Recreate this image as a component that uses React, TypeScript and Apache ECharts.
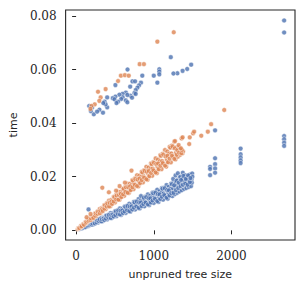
import React, { useEffect, useRef } from "react";
import * as echarts from "echarts";

const xTicks = [0, 1000, 2000];
const yTicks = [0, 0.02, 0.04, 0.06, 0.08];

// blue: main lower band
const blueBand: number[][] = [
  [40,0.00041],[47,0.00058],[54,0.00076],[70,0.00078],[77,0.00101],[84,0.00122],[100,0.00100],[107,0.00126],[114,0.00155],
  [130,0.00139],[137,0.00174],[144,0.00206],[160,0.00164],[167,0.00205],[174,0.00244],[190,0.00211],[197,0.00259],[204,0.00296],
  [220,0.00220],[227,0.00268],[234,0.00318],[250,0.00267],[257,0.00326],[264,0.00377],[280,0.00286],[287,0.00352],[294,0.00413],
  [310,0.00345],[317,0.00417],[324,0.00470],[340,0.00340],[347,0.00409],[354,0.00481],[370,0.00395],[377,0.00479],[384,0.00548],
  [400,0.00409],[407,0.00499],[414,0.00582],[430,0.00478],[437,0.00575],[444,0.00644],[460,0.00460],[467,0.00551],[474,0.00645],
  [490,0.00523],[497,0.00631],[504,0.00719],[520,0.00532],[527,0.00646],[534,0.00750],[550,0.00612],[557,0.00732],[564,0.00818],
  [580,0.00580],[587,0.00693],[594,0.00808],[610,0.00651],[617,0.00784],[624,0.00891],[640,0.00654],[647,0.00793],[654,0.00919],
  [670,0.00745],[677,0.00890],[684,0.00992],[700,0.00700],[707,0.00834],[714,0.00971],[730,0.00779],[737,0.00936],[744,0.01062],
  [760,0.00777],[767,0.00940],[774,0.01087],[790,0.00879],[797,0.01048],[804,0.01166],[820,0.00820],[827,0.00976],[834,0.01134],
  [850,0.00907],[857,0.01088],[864,0.01233],[880,0.00900],[887,0.01087],[894,0.01256],[910,0.01012],[917,0.01206],[924,0.01340],
  [940,0.00940],[947,0.01117],[954,0.01297],[970,0.01035],[977,0.01241],[984,0.01405],[1000,0.01023],[1007,0.01234],[1014,0.01425],
  [1030,0.01146],[1037,0.01364],[1044,0.01514],[1060,0.01060],[1067,0.01259],[1074,0.01461],[1090,0.01164],[1097,0.01393],[1104,0.01576],
  [1120,0.01145],[1127,0.01381],[1134,0.01593],[1150,0.01279],[1157,0.01521],[1164,0.01688],[1180,0.01180],[1187,0.01401],[1194,0.01624],
  [1210,0.01292],[1217,0.01546],[1224,0.01747],[1240,0.0128],[1247,0.0155],[1254,0.0180],[1250,0.0192],
  [1270,0.0135],[1277,0.0162],[1284,0.0178],[1280,0.0205],[1300,0.0140],[1307,0.0168],[1314,0.0190],[1310,0.0213],
  [1330,0.0145],[1337,0.0172],[1344,0.0196],[1340,0.0200],[1360,0.0150],[1367,0.0175],[1374,0.0215],[1370,0.0192],
  [1390,0.0155],[1397,0.0182],[1404,0.0205],[1400,0.0168],[1420,0.0158],[1427,0.0178],[1434,0.0198],[1430,0.0190],
  [1450,0.0162],[1457,0.0185],[1464,0.0208],[1460,0.0172],[1480,0.0165],[1487,0.0190],[1494,0.0212],[1490,0.0178],[1497,0.0200],
  [160,0.0078],[835,0.0128],
];
const blueFill: number[][] = [
  [55,0.00064],[62,0.00076],[85,0.00089],[92,0.00110],[115,0.00143],[122,0.00125],[145,0.00165],[152,0.00204],
  [175,0.00203],[182,0.00242],[205,0.00214],[212,0.00265],[235,0.00293],[242,0.00256],[265,0.00301],[272,0.00372],
  [295,0.00341],[302,0.00408],[325,0.00340],[332,0.00420],[355,0.00443],[362,0.00387],[385,0.00437],[392,0.00541],
  [415,0.00480],[422,0.00574],[445,0.00465],[452,0.00575],[475,0.00593],[482,0.00518],[505,0.00573],[512,0.00710],
  [535,0.00619],[542,0.00740],[565,0.00590],[572,0.00730],[595,0.00742],[602,0.00649],[625,0.00709],[632,0.00878],
  [655,0.00758],[662,0.00906],[685,0.00716],[692,0.00885],[715,0.00892],[722,0.00779],[745,0.00846],[752,0.01047],
  [775,0.00897],[782,0.01071],[805,0.00841],[812,0.01040],[835,0.01042],[842,0.00910],[865,0.00982],[872,0.01215],
  [895,0.01036],[902,0.01237],[925,0.00967],[932,0.01196],[955,0.01191],[962,0.01041],[985,0.01118],[992,0.01384],
  [1015,0.01175],[1022,0.01403],[1045,0.01092],[1052,0.01351],[1075,0.01341],[1082,0.01172],[1105,0.01254],[1112,0.01553],
  [1135,0.01314],[1142,0.01569],[1165,0.01217],[1172,0.01506],[1195,0.01491],[1202,0.01303],[1225,0.01390],[1232,0.01721],
  [1255,0.0140],[1262,0.0168],[1285,0.0150],[1292,0.0185],[1315,0.0158],[1322,0.0178],[1345,0.0165],[1352,0.0188],
  [1375,0.0170],[1382,0.0203],[1405,0.0175],[1412,0.0192],[1435,0.0170],[1442,0.0205],[1465,0.0180],[1472,0.0195],
];
// blue: upper cluster
const blueUpper: number[][] = [
  [1219,0.0646],[1481,0.0618],[1430,0.0602],[1371,0.0595],[1304,0.0586],[1253,0.0585],[1071,0.0601],[1071,0.0592],[1071,0.0582],[1046,0.0551],
  [1000,0.0577],[852,0.0577],[662,0.0600],[725,0.0556],[759,0.0556],[835,0.0551],[810,0.0541],[789,0.0532],[767,0.0523],[751,0.0512],
  [767,0.0509],[696,0.0536],[506,0.0542],[641,0.0514],[599,0.0509],[557,0.0506],[506,0.0499],[472,0.0493],[494,0.0489],[400,0.0496],
  [367,0.0480],[400,0.0459],[206,0.0458],[168,0.0464],[228,0.0433],[346,0.0439],[600,0.0496],[640,0.0485],[660,0.0478],[580,0.0490],
  [540,0.0480],[520,0.0475],[700,0.0502],[720,0.0495],[300,0.0450],[270,0.0443],[380,0.0470],[190,0.0445],[350,0.0475],[660,0.0505],
];
// blue: large trees
const blueRight: number[][] = [
  [1725,0.0237],[1725,0.0229],[1725,0.0206],[1789,0.0373],[1789,0.0269],[1789,0.0247],[1789,0.0231],[1789,0.0215],
  [2118,0.0305],[2118,0.0284],[2118,0.0272],[2118,0.0261],[2118,0.0251],
  [2678,0.0783],[2678,0.0738],[2678,0.0352],[2678,0.0340],[2678,0.0327],[2678,0.0315],
];

// orange: main band
const orangeBand: number[][] = [
  [20,0.00042],[27,0.00063],[34,0.00087],[50,0.00110],[57,0.00140],[64,0.00168],[80,0.00164],[87,0.00198],[94,0.00236],
  [110,0.00235],[117,0.00280],[124,0.00321],[140,0.00291],[147,0.00343],[154,0.00395],[170,0.00373],[177,0.00433],[184,0.00482],
  [200,0.00410],[207,0.00472],[214,0.00536],[230,0.00491],[237,0.00567],[244,0.00632],[260,0.00540],[267,0.00623],[274,0.00702],
  [290,0.00636],[297,0.00727],[304,0.00796],[320,0.00656],[327,0.00745],[334,0.00837],[350,0.00747],[357,0.00854],[364,0.00943],
  [380,0.00790],[387,0.00904],[394,0.01010],[410,0.00899],[417,0.01021],[424,0.01111],[440,0.00902],[447,0.01018],[454,0.01138],
  [470,0.01004],[477,0.01141],[484,0.01254],[500,0.01039],[507,0.01184],[514,0.01317],[530,0.01162],[537,0.01315],[544,0.01425],
  [560,0.01148],[567,0.01292],[574,0.01438],[590,0.01260],[597,0.01428],[604,0.01565],[620,0.01289],[627,0.01464],[634,0.01625],
  [650,0.01425],[657,0.01609],[664,0.01740],[680,0.01394],[687,0.01565],[694,0.01739],[710,0.01516],[717,0.01715],[724,0.01876],
  [740,0.01538],[747,0.01744],[754,0.01933],[770,0.01688],[777,0.01903],[784,0.02054],[800,0.01640],[807,0.01838],[814,0.02040],
  [830,0.01772],[837,0.02002],[844,0.02187],[860,0.01788],[867,0.02024],[874,0.02240],[890,0.01951],[897,0.02197],[904,0.02369],
  [920,0.01886],[927,0.02112],[934,0.02341],[950,0.02029],[957,0.02289],[964,0.02498],[980,0.02037],[987,0.02305],[994,0.02548],
  [1010,0.02214],[1017,0.02491],[1024,0.02683],[1040,0.02132],[1047,0.02385],[1054,0.02641],[1070,0.02285],[1077,0.02576],[1084,0.02809],
  [1100,0.02286],[1107,0.02585],[1114,0.02855],[1130,0.02478],[1137,0.02785],[1144,0.02997],[1160,0.02378],[1167,0.02658],[1174,0.02942],
  [1190,0.02541],[1197,0.02863],[1204,0.03120],[1220,0.02536],[1227,0.02865],[1234,0.03163],[1250,0.02741],[1257,0.03078],[1264,0.03312],
  [1280,0.0265],[1287,0.0290],[1294,0.0310],[1310,0.0275],[1317,0.0295],[1324,0.0305],[1340,0.0282],[1347,0.0298],[1354,0.0292],
  [1370,0.0288],[1377,0.0295],
];
const orangeFill: number[][] = [
  [35,0.00079],[42,0.00089],[65,0.00137],[72,0.00157],[95,0.00225],[102,0.00206],[125,0.00278],[132,0.00320],
  [155,0.00349],[162,0.00393],[185,0.00390],[192,0.00448],[215,0.00508],[222,0.00465],[245,0.00544],[252,0.00628],
  [275,0.00619],[282,0.00697],[305,0.00643],[312,0.00738],[335,0.00792],[342,0.00725],[365,0.00811],[372,0.00935],
  [395,0.00889],[402,0.01001],[425,0.00895],[432,0.01029],[455,0.01075],[462,0.00985],[485,0.01077],[492,0.01243],
  [515,0.01158],[522,0.01305],[545,0.01148],[552,0.01319],[575,0.01359],[582,0.01244],[605,0.01344],[612,0.01551],
  [635,0.01428],[642,0.01609],[665,0.01401],[672,0.01610],[695,0.01643],[702,0.01504],[725,0.01610],[732,0.01858],
  [755,0.01698],[762,0.01914],[785,0.01654],[792,0.01900],[815,0.01926],[822,0.01764],[845,0.01877],[852,0.02166],
  [875,0.01968],[882,0.02218],[905,0.01907],[912,0.02191],[935,0.02210],[942,0.02023],[965,0.02143],[972,0.02473],
  [995,0.02238],[1002,0.02522],[1025,0.02160],[1032,0.02481],[1055,0.02493],[1062,0.02283],[1085,0.02410],[1092,0.02781],
  [1115,0.02508],[1122,0.02826],[1145,0.02413],[1152,0.02771],[1175,0.02777],[1182,0.02543],[1205,0.02676],[1212,0.03088],
  [1235,0.02778],[1242,0.03130],[1265,0.02665],[1272,0.03062],[1295,0.0282],[1302,0.0300],[1325,0.0290],[1332,0.0310],
  [1355,0.0288],[1362,0.0300],
];
const orangeOutliers: number[][] = [
  [135,0.0049],[186,0.0061],[337,0.0159],[422,0.0142],[515,0.0148],[560,0.0165],[629,0.0178],[713,0.0223],
];
const orangeUpper: number[][] = [
  [1257,0.0739],[1046,0.0704],[818,0.0620],[873,0.0620],[540,0.0557],[577,0.0577],[628,0.0579],[678,0.0577],[282,0.0517],[380,0.0527],
  [316,0.0496],[299,0.0483],[240,0.0470],[198,0.0464],[185,0.0453],
];
const orangeRight: number[][] = [
  [1273,0.0333],[1320,0.0318],[1349,0.0306],[1358,0.0343],[1371,0.0347],[1456,0.0322],[1463,0.0347],[1506,0.0362],[1519,0.0368],
  [1611,0.0353],[1696,0.0368],[1738,0.0396],[1907,0.0449],
];

const BLUE = "#4c72b0";
const ORANGE = "#dd8452";
const INK = "#262626";

export default function App() {
  const ref = useRef<HTMLDivElement>(null);
  useEffect(() => {
    if (!ref.current) return;
    const chart = echarts.init(ref.current, undefined, { renderer: "svg" });
    const sym = {
      type: "scatter" as const,
      symbol: "circle",
      symbolSize: 4.8,
    };
    chart.setOption({
      animation: false,
      backgroundColor: "#ffffff",
      grid: {
        left: 62,
        right: 10,
        top: 10,
        bottom: 51,
        show: true,
        borderColor: INK,
        borderWidth: 1.1,
        backgroundColor: "transparent",
      },
      xAxis: {
        type: "value",
        min: -135,
        max: 2818,
        name: "unpruned tree size",
        nameLocation: "middle",
        nameGap: 29,
        nameTextStyle: { fontFamily: "DejaVu Sans", fontSize: 11, color: INK },
        splitLine: { show: false },
        axisLine: { show: false },
        axisTick: { show: true, customValues: xTicks, length: 4, inside: false, lineStyle: { color: INK, width: 1 } },
        axisLabel: {
          customValues: xTicks,
          margin: 10,
          fontFamily: "DejaVu Serif",
          fontSize: 12,
          color: INK,
          formatter: (v: number) => String(v),
        },
      },
      yAxis: {
        type: "value",
        min: -0.0036,
        max: 0.0822,
        name: "time",
        nameLocation: "middle",
        nameGap: 42,
        nameTextStyle: { fontFamily: "DejaVu Sans", fontSize: 11, color: INK },
        splitLine: { show: false },
        axisLine: { show: false },
        axisTick: { show: true, customValues: yTicks, length: 4, inside: false, lineStyle: { color: INK, width: 1 } },
        axisLabel: {
          customValues: yTicks,
          margin: 9,
          fontFamily: "DejaVu Serif",
          fontSize: 12,
          color: INK,
          formatter: (v: number) => v.toFixed(2),
        },
      },
      series: [
        {
          ...sym,
          name: "blue",
          data: [...blueBand, ...blueFill, ...blueUpper, ...blueRight],
          itemStyle: { color: BLUE, borderColor: "#ffffff", borderWidth: 0.6 },
        },
        {
          ...sym,
          name: "orange",
          data: [...orangeBand, ...orangeFill, ...orangeOutliers, ...orangeUpper, ...orangeRight],
          itemStyle: { color: ORANGE, borderColor: "#ffffff", borderWidth: 0.6 },
        },
      ],
    });
    return () => chart.dispose();
  }, []);
  return (
    <div
      ref={ref}
      style={{ position: "fixed", left: 0, top: 0, width: 305, height: 291, background: "#fff" }}
    />
  );
}
